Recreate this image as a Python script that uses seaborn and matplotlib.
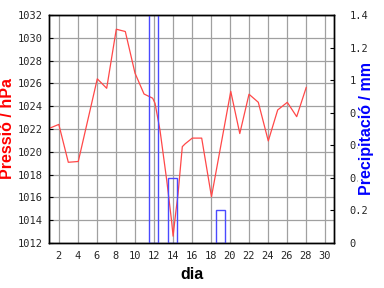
import matplotlib
matplotlib.use("Agg")
import matplotlib.pyplot as plt
import seaborn as sns
import pandas as pd

# Pressure data (day of month, hPa)
dia = [1.0, 2.0, 3.0, 4.05, 6.05, 7.04, 8.05, 9.0, 10.02, 10.97, 11.88, 12.13,
       12.65, 13.36, 13.88, 14.03, 14.3, 14.55, 15.0, 15.3, 16.05, 17.04, 18.07,
       20.1, 21.05, 22.02, 23.0, 24.05, 25.04, 26.05, 27.04, 28.05]
pressio = [1022.06, 1022.4, 1019.08, 1019.15, 1026.4, 1025.57, 1030.75, 1030.55,
           1026.9, 1025.07, 1024.7, 1024.25, 1021.9, 1017.5, 1013.87, 1012.6,
           1014.6, 1016.3, 1020.45, 1020.7, 1021.2, 1021.2, 1016.06, 1025.3,
           1021.6, 1025.05, 1024.34, 1020.95, 1023.67, 1024.34, 1023.08, 1025.66]

# Precipitation data (day, mm)
dia_prec = [12, 14, 19]
precip = [1.6, 0.4, 0.2]

x_ticks = list(range(2, 31, 2))
y_ticks = list(range(1012, 1033, 2))
y2_ticks = [0, 0.2, 0.4, 0.6, 0.8, 1.0, 1.2, 1.4]
y2_labels = ["0", "0.2", "0.4", "0.6", "0.8", "1", "1.2", "1.4"]

sns.set_style("white")
plt.rcParams["font.family"] = ["Liberation Sans", "DejaVu Sans"]

fig = plt.figure(figsize=(3.84, 2.88), dpi=100)
ax = fig.add_axes([0.1284, 0.15625, 0.8706 - 0.1284, 0.948 - 0.15625])

df = pd.DataFrame({"dia": dia, "pressio": pressio})
sns.lineplot(data=df, x="dia", y="pressio", ax=ax, color="#ff4848",
             linewidth=0.9, zorder=3)

ax.set_xlim(1, 31)
ax.set_ylim(1012, 1032)
ax.set_xticks(x_ticks)
ax.set_yticks(y_ticks)
ax.grid(True, color="#a0a0a0", linewidth=0.9)
ax.set_axisbelow(True)

tick_font = dict(family="DejaVu Sans Mono", size=7.5)
ax.set_xticklabels([str(t) for t in x_ticks], fontdict=tick_font)
ax.set_yticklabels([str(t) for t in y_ticks], fontdict=tick_font)
ax.tick_params(axis="both", direction="in", length=3, width=0.8, color="black")
ax.tick_params(axis="x", pad=6)
ax.tick_params(axis="y", pad=5)
for s in ax.spines.values():
    s.set_color("black")
    s.set_linewidth(1.0)

ax.set_xlabel("dia", fontsize=11.5, fontweight="bold", color="black", labelpad=4)
ax.set_ylabel("Pressió / hPa", fontsize=11.5, fontweight="bold", color="#ff0000",
              labelpad=1.5)

ax2 = ax.twinx()
ax2.bar(dia_prec, precip, width=0.95, fill=False, edgecolor="#4a4aff",
        linewidth=1.0)
ax2.set_ylim(0, 1.4)
ax2.set_yticks(y2_ticks)
ax2.set_yticklabels(y2_labels, fontdict=tick_font)
ax2.tick_params(axis="y", direction="in", length=3, width=0.8, color="black", pad=11)
ax2.grid(False)
for s in ax2.spines.values():
    s.set_color("black")
    s.set_linewidth(1.0)
lab = ax2.set_ylabel("Precipitació / mm", fontsize=11.5, fontweight="bold",
                     color="#0000ff", labelpad=-7)
lab.set_bbox(dict(facecolor="white", edgecolor="none", pad=0.5))

fig.savefig("out.png", dpi=100)
